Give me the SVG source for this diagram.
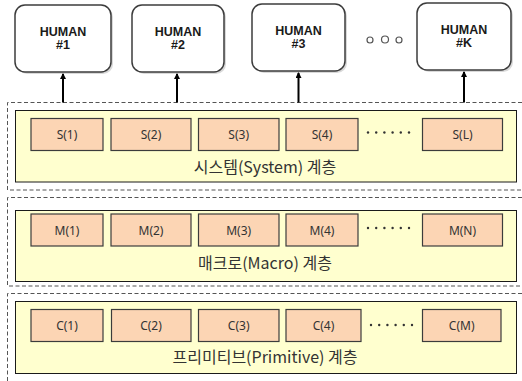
<svg xmlns="http://www.w3.org/2000/svg" width="522" height="381" viewBox="0 0 522 381">
  <style>
    .human { fill: #ffffff; stroke: #3c3c3c; stroke-width: 1.5; }
    .hshadow { fill: #d9d9d9; }
    .htxt { font-family: "Liberation Sans", Arial, sans-serif; font-weight: bold; font-size: 12.5px; fill: #1a1a1a; text-anchor: middle; }
    .frame { fill: none; stroke: #555555; stroke-width: 1; stroke-dasharray: 4 2.5; }
    .layer { fill: #ffffcf; stroke: #1a1a1a; stroke-width: 1; }
    .unit { fill: #fcd5b4; stroke: #3c3c3c; stroke-width: 1.2; }
    .utxt { font-family: "Noto Sans", "Liberation Sans", sans-serif; font-size: 12px; fill: #333333; text-anchor: middle; }
    .ltxt { font-family: "Noto Sans CJK KR", "Noto Sans", sans-serif; font-size: 16px; fill: #333333; text-anchor: middle; }
    .edge { stroke: #000000; stroke-width: 2; fill: none; }
    .dot { fill: #333333; }
    .ring { fill: none; stroke: #555555; stroke-width: 1.2; }
  </style>
  <defs>
    <marker id="arrow" markerWidth="6" markerHeight="6" refX="5" refY="3" orient="auto" markerUnits="userSpaceOnUse">
      <path d="M0,0 L6,3 L0,6 Z" fill="#000000"/>
    </marker>
  </defs>

  <!-- human operators -->
  <g id="human1">
    <rect class="hshadow" x="17" y="7" width="96" height="67" rx="10"/>
    <rect class="human" x="15" y="5" width="96" height="67" rx="10"/>
    <text class="htxt" x="63" y="36">HUMAN</text>
    <text class="htxt" x="63" y="49">#1</text>
  </g>
  <g id="human2">
    <rect class="hshadow" x="134" y="7" width="92" height="67" rx="10"/>
    <rect class="human" x="132" y="5" width="92" height="67" rx="10"/>
    <text class="htxt" x="178" y="36">HUMAN</text>
    <text class="htxt" x="178" y="49">#2</text>
  </g>
  <g id="human3">
    <rect class="hshadow" x="254" y="6" width="93" height="67" rx="10"/>
    <rect class="human" x="252" y="4" width="93" height="67" rx="10"/>
    <text class="htxt" x="298.5" y="35">HUMAN</text>
    <text class="htxt" x="298.5" y="48">#3</text>
  </g>
  <g id="human-more">
    <circle class="ring" cx="370" cy="40" r="3"/>
    <circle class="ring" cx="385" cy="39.5" r="3.5"/>
    <circle class="ring" cx="399" cy="40" r="3"/>
  </g>
  <g id="humanK">
    <rect class="hshadow" x="419" y="5" width="94" height="67" rx="10"/>
    <rect class="human" x="417" y="3" width="94" height="67" rx="10"/>
    <text class="htxt" x="464" y="34">HUMAN</text>
    <text class="htxt" x="464" y="47">#K</text>
  </g>

  <!-- dashed layer frames -->
  <g id="frames">
    <path class="frame" d="M522,102.5 H7.5 V190 H522"/>
    <path class="frame" d="M522,197.5 H7.5 V286 H522"/>
    <path class="frame" d="M522,293.5 H7.5 V381"/>
  </g>

  <!-- system layer -->
  <g id="system-layer">
    <rect class="layer" x="15.5" y="110.5" width="501" height="71.5"/>
    <rect class="unit" x="31" y="118.5" width="72" height="32"/>
    <text class="utxt" x="67" y="139">S(1)</text>
    <rect class="unit" x="111" y="118.5" width="80" height="32"/>
    <text class="utxt" x="151" y="139">S(2)</text>
    <rect class="unit" x="198.5" y="118.5" width="80.5" height="32"/>
    <text class="utxt" x="238.7" y="139">S(3)</text>
    <rect class="unit" x="286" y="118.5" width="72" height="32"/>
    <text class="utxt" x="322" y="139">S(4)</text>
    <g class="dot">
      <circle cx="368" cy="132.5" r="1.2"/><circle cx="376.2" cy="132.5" r="1.2"/><circle cx="384.4" cy="132.5" r="1.2"/>
      <circle cx="392.6" cy="132.5" r="1.2"/><circle cx="400.8" cy="132.5" r="1.2"/><circle cx="409" cy="132.5" r="1.2"/>
    </g>
    <rect class="unit" x="422.5" y="118.5" width="80" height="32"/>
    <text class="utxt" x="462.5" y="139">S(L)</text>
    <text class="ltxt" x="265" y="173">시스템(System) 계층</text>
  </g>

  <!-- macro layer -->
  <g id="macro-layer">
    <rect class="layer" x="15.5" y="210.5" width="501" height="71"/>
    <rect class="unit" x="31" y="214" width="72" height="32"/>
    <text class="utxt" x="67" y="234.5">M(1)</text>
    <rect class="unit" x="111" y="214" width="80" height="32"/>
    <text class="utxt" x="151" y="234.5">M(2)</text>
    <rect class="unit" x="198.5" y="214" width="80.5" height="32"/>
    <text class="utxt" x="238.7" y="234.5">M(3)</text>
    <rect class="unit" x="286" y="214" width="72" height="32"/>
    <text class="utxt" x="322" y="234.5">M(4)</text>
    <g class="dot">
      <circle cx="368" cy="228" r="1.2"/><circle cx="376.2" cy="228" r="1.2"/><circle cx="384.4" cy="228" r="1.2"/>
      <circle cx="392.6" cy="228" r="1.2"/><circle cx="400.8" cy="228" r="1.2"/><circle cx="409" cy="228" r="1.2"/>
    </g>
    <rect class="unit" x="422.5" y="214" width="80" height="32"/>
    <text class="utxt" x="462.5" y="234.5">M(N)</text>
    <text class="ltxt" x="265" y="269">매크로(Macro) 계층</text>
  </g>

  <!-- primitive layer -->
  <g id="primitive-layer">
    <rect class="layer" x="15.5" y="301.5" width="501" height="72"/>
    <rect class="unit" x="31" y="309.5" width="72" height="32"/>
    <text class="utxt" x="67" y="330">C(1)</text>
    <rect class="unit" x="111.5" y="309.5" width="79.5" height="32"/>
    <text class="utxt" x="151" y="330">C(2)</text>
    <rect class="unit" x="198.5" y="309.5" width="80.5" height="32"/>
    <text class="utxt" x="238.7" y="330">C(3)</text>
    <rect class="unit" x="286" y="309.5" width="75" height="32"/>
    <text class="utxt" x="323.5" y="330">C(4)</text>
    <g class="dot">
      <circle cx="371" cy="325" r="1.2"/><circle cx="379.2" cy="325" r="1.2"/><circle cx="387.4" cy="325" r="1.2"/>
      <circle cx="395.6" cy="325" r="1.2"/><circle cx="403.8" cy="325" r="1.2"/><circle cx="412" cy="325" r="1.2"/>
    </g>
    <rect class="unit" x="422.5" y="309.5" width="78.5" height="32"/>
    <text class="utxt" x="461.7" y="330">C(M)</text>
    <text class="ltxt" x="265" y="363">프리미티브(Primitive) 계층</text>
  </g>

  <!-- connectors: system layer up to each human -->
  <g id="connectors">
    <line class="edge" x1="63" y1="102.5" x2="63" y2="74" marker-end="url(#arrow)"/>
    <line class="edge" x1="177" y1="102.5" x2="177" y2="74" marker-end="url(#arrow)"/>
    <line class="edge" x1="298.5" y1="102.5" x2="298.5" y2="73" marker-end="url(#arrow)"/>
    <line class="edge" x1="464" y1="102.5" x2="464" y2="72" marker-end="url(#arrow)"/>
  </g>
</svg>
